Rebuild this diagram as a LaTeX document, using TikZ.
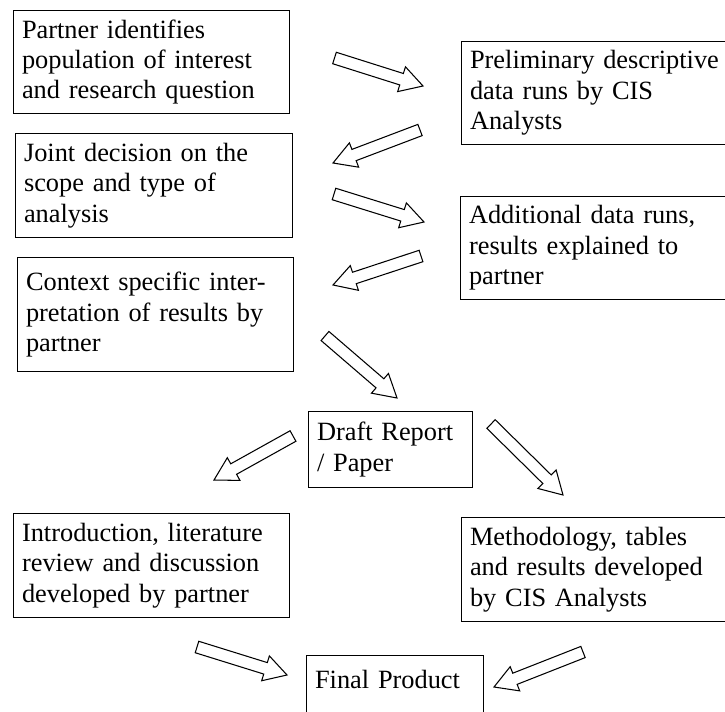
\documentclass[tikz,border=0pt]{standalone}
\usepackage{fontspec}
\setmainfont{Liberation Serif}
\usetikzlibrary{calc}

\begin{document}
\begin{tikzpicture}[
        box/.style={draw, line width=0.6pt, anchor=north west, align=left,
                    inner xsep=0.17cm, inner ysep=0pt,
                    font=\fontsize{15}{17.3}\selectfont},
        blockarrow/.style={draw, fill=white, line width=0.6pt, line join=miter,
            to path={
                ($(\tikztostart)!1.2mm!90:(\tikztotarget)$)
                -- ($(\tikztotarget)!4.5mm!(\tikztostart)!1.2mm!-90:(\tikztostart)$)
                -- ($(\tikztotarget)!4.5mm!(\tikztostart)!2.6mm!-90:(\tikztostart)$)
                -- (\tikztotarget)
                -- ($(\tikztotarget)!4.5mm!(\tikztostart)!2.6mm!90:(\tikztostart)$)
                -- ($(\tikztotarget)!4.5mm!(\tikztostart)!1.2mm!90:(\tikztostart)$)
                -- ($(\tikztostart)!1.2mm!-90:(\tikztotarget)$)
                -- cycle}}
    ]
    \useasboundingbox (0,0) rectangle (14.5,14.22);

    % Boxes
    \node[box, text width=5.18cm, minimum height=2.06cm] at (0.26, 14.02) (partner) {Partner identifies\\population of interest\\and research question};
    \node[box, text width=5.26cm, minimum height=2.06cm] at (9.22, 13.40) (prelim)  {Preliminary descriptive\\data runs by CIS\\Analysts};
    \node[box, text width=5.20cm, minimum height=2.08cm] at (0.30, 11.56) (joint)   {Joint decision on the\\scope and type of\\analysis};
    \node[box, text width=5.26cm, minimum height=2.06cm] at (9.20, 10.30) (extra)   {Additional data runs,\\results explained to\\partner};
    \node[box, text width=5.18cm, minimum height=2.28cm] at (0.34, 9.08)  (context) {Context specific inter-\\pretation of results by\\partner};
    \node[box, text width=2.94cm, minimum height=1.52cm] at (6.16, 6.00)  (draft)   {Draft Report\\/ Paper};
    \node[box, text width=5.18cm, minimum height=2.08cm] at (0.26, 3.96)  (intro)   {Introduction, literature\\review and discussion\\developed by partner};
    \node[box, text width=5.26cm, minimum height=2.08cm] at (9.22, 3.88)  (method)  {Methodology, tables\\and results developed\\by CIS Analysts};
    \node[box, text width=3.20cm, inner ysep=0.3cm, text depth=1.2cm] at (6.12, 1.12) (final) {Final Product};

    % Arrow ends
    \coordinate (s1) at (6.69, 13.06);  \coordinate (t1) at (8.46, 12.50);
    \coordinate (s2) at (8.40, 11.62);  \coordinate (t2) at (6.66, 10.96);
    \coordinate (s3) at (6.68, 10.34);  \coordinate (t3) at (8.48, 9.78);
    \coordinate (s4) at (8.42, 9.10);   \coordinate (t4) at (6.66, 8.52);
    \coordinate (s5) at (6.50, 7.50);   \coordinate (t5) at (7.94, 6.26);
    \coordinate (s6) at (5.86, 5.50);   \coordinate (t6) at (4.28, 4.62);
    \coordinate (s7) at (9.82, 5.74);   \coordinate (t7) at (11.26, 4.32);
    \coordinate (s8) at (3.94, 1.28);   \coordinate (t8) at (5.74, 0.72);
    \coordinate (s9) at (11.66, 1.18);  \coordinate (t9) at (9.88, 0.48);

    \draw[blockarrow] (s1) to (t1);
    \draw[blockarrow] (s2) to (t2);
    \draw[blockarrow] (s3) to (t3);
    \draw[blockarrow] (s4) to (t4);
    \draw[blockarrow] (s5) to (t5);
    \draw[blockarrow] (s6) to (t6);
    \draw[blockarrow] (s7) to (t7);
    \draw[blockarrow] (s8) to (t8);
    \draw[blockarrow] (s9) to (t9);
\end{tikzpicture}
\end{document}
